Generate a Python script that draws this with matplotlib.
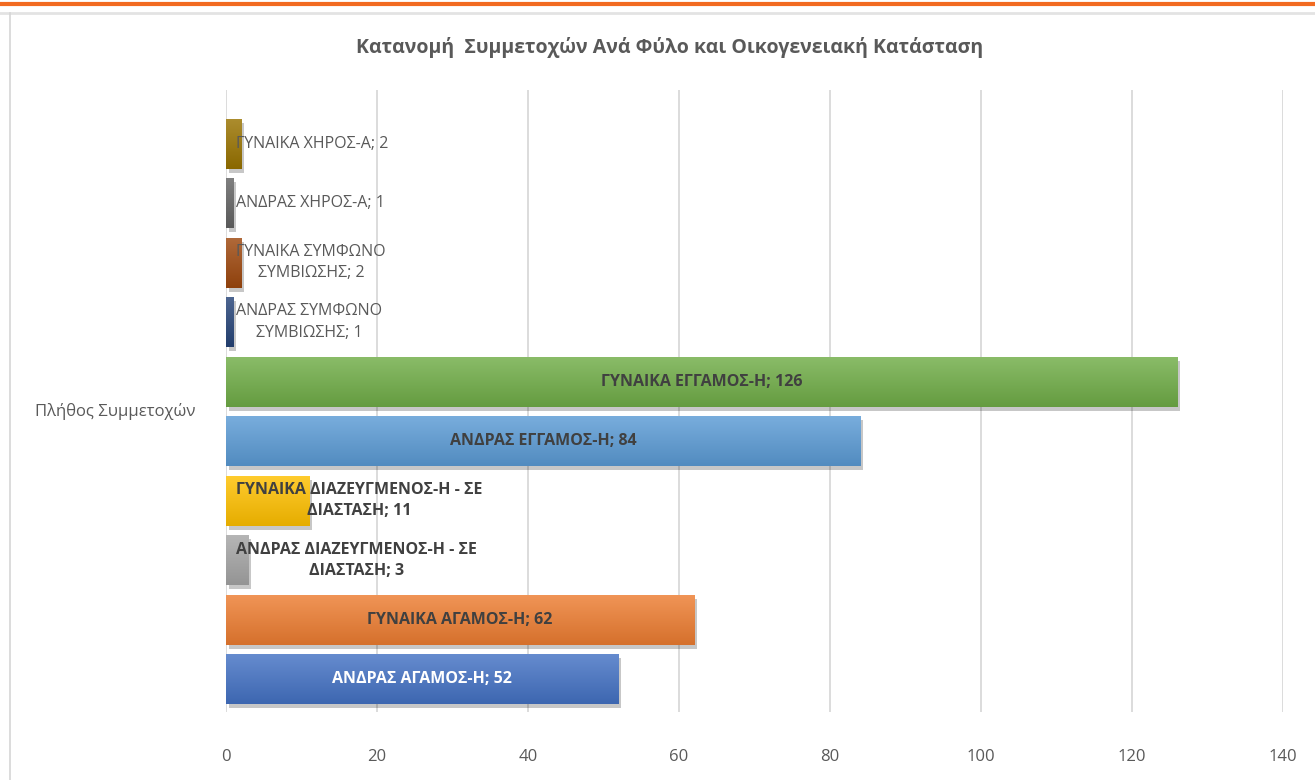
import numpy as np
import matplotlib.pyplot as plt
import matplotlib.patheffects as pe
from matplotlib.colors import to_rgb
from matplotlib.transforms import offset_copy
from matplotlib.lines import Line2D

plt.rcParams['font.family'] = ['Open Sans', 'DejaVu Sans']

title = 'Κατανομή  Συμμετοχών Ανά Φύλο και Οικογενειακή Κατάσταση'
category = 'Πλήθος Συμμετοχών'

# series, bottom to top as drawn
series = ['ΑΝΔΡΑΣ ΑΓΑΜΟΣ-Η', 'ΓΥΝΑΙΚΑ ΑΓΑΜΟΣ-Η',
          'ΑΝΔΡΑΣ ΔΙΑΖΕΥΓΜΕΝΟΣ-Η - ΣΕ\nΔΙΑΣΤΑΣΗ', 'ΓΥΝΑΙΚΑ ΔΙΑΖΕΥΓΜΕΝΟΣ-Η - ΣΕ\nΔΙΑΣΤΑΣΗ',
          'ΑΝΔΡΑΣ ΕΓΓΑΜΟΣ-Η', 'ΓΥΝΑΙΚΑ ΕΓΓΑΜΟΣ-Η',
          'ΑΝΔΡΑΣ ΣΥΜΦΩΝΟ\nΣΥΜΒΙΩΣΗΣ', 'ΓΥΝΑΙΚΑ ΣΥΜΦΩΝΟ\nΣΥΜΒΙΩΣΗΣ',
          'ΑΝΔΡΑΣ ΧΗΡΟΣ-Α', 'ΓΥΝΑΙΚΑ ΧΗΡΟΣ-Α']
values = [52, 62, 3, 11, 84, 126, 1, 2, 1, 2]
colors = ['#4472C4', '#ED7D31', '#A5A5A5', '#FFC000', '#5B9BD5',
          '#70AD47', '#264478', '#9E480E', '#636363', '#997300']
xticks = [0, 20, 40, 60, 80, 100, 120, 140]

fig = plt.figure(figsize=(13.15, 7.8), dpi=100)
ax = fig.add_axes([0.1719, 0.0872, 0.8038, 0.7974])

pos = np.arange(len(values))
bars = ax.barh(pos, values, height=0.84, color=colors, zorder=3)

# gradient fill + shadow like excel
for b, c in zip(bars, colors):
    rgb = np.array(to_rgb(c))
    light = rgb + (1 - rgb) * 0.18
    dark = rgb * 0.9
    t = np.linspace(0, 1, 64)[:, None]
    grad = light[None, :] * (1 - t) + dark[None, :] * t
    img = np.repeat(grad[:, None, :], 2, axis=1)
    x0, y0 = b.get_x(), b.get_y()
    w, h = b.get_width(), b.get_height()
    im = ax.imshow(img, extent=[x0, x0 + w, y0, y0 + h], origin='upper',
                   aspect='auto', zorder=3.5, interpolation='bilinear')
    im.set_clip_path(b)
    b.set_path_effects([pe.SimplePatchShadow(offset=(2, -3), shadow_rgbFace='#000000',
                                             alpha=0.22), pe.Normal()])

# data labels
for i, (s, v) in enumerate(zip(series, values)):
    txt = f'{s}; {v}'
    bold = i < 6
    col = 'white' if i == 0 else ('#404040' if bold else '#595959')
    if v >= 20:
        ax.text(v / 2, i, txt, ha='center', va='center', fontsize=11.5,
                fontweight='bold', color=col, zorder=5)
    else:
        tr = offset_copy(ax.transData, fig=fig, x=10, y=0, units='dots')
        ax.text(0, i, txt, transform=tr, ha='left', va='center', fontsize=11.5,
                fontweight='bold' if bold else 'normal', color=col,
                multialignment='center', zorder=5, linespacing=1.45)

ax.set_xlim(0, 140)
ax.set_ylim(-0.55, 9.9)
ax.set_xticks(xticks)
ax.set_yticks([])
ax.grid(axis='x', color='#D9D9D9', linewidth=1.3, zorder=0)
ax.tick_params(axis='x', length=0, pad=27, labelsize=12, labelcolor='#595959')
for sp in ax.spines.values():
    sp.set_visible(False)

fig.text(0.088, 0.472, category, ha='center', va='center', fontsize=12, color='#595959')
fig.text(0.509, 0.939, title, ha='center', va='center', fontsize=14,
         fontweight='bold', color='#595959')

# window frame
fig.add_artist(Line2D([0, 1], [0.9955, 0.9955], color='#F26B21', lw=3))
fig.add_artist(Line2D([0, 1], [0.983, 0.983], color='#E3E3E3', lw=2))
fig.add_artist(Line2D([0.0076, 0.0076], [0, 0.983], color='#D6D6D6', lw=1.2))

fig.savefig('out.png', dpi=100)
